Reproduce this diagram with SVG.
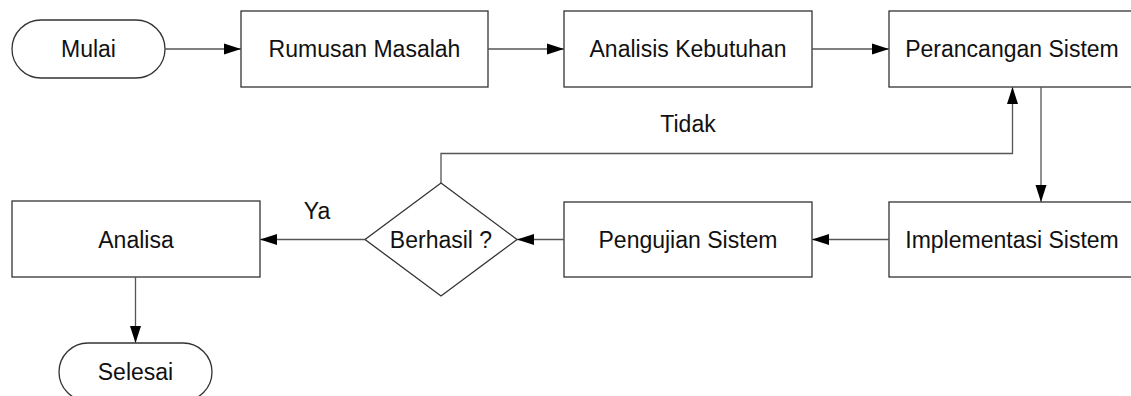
<svg xmlns="http://www.w3.org/2000/svg" width="1131" height="396" viewBox="0 0 1131 396">
<style>
.box{fill:#fff;stroke:#333;stroke-width:1.3}
.lbl{font-family:"Liberation Sans",Arial,sans-serif;font-size:23px;fill:#111;text-anchor:middle}
.con{fill:none;stroke:#555;stroke-width:1.3}
</style>
<defs>
<marker id="ah" markerUnits="userSpaceOnUse" markerWidth="18" markerHeight="12" refX="17" refY="6" orient="auto">
<path d="M0,0.5 L17,6 L0,11.5 Z" fill="#000"/>
</marker>
</defs>
<rect width="1131" height="396" fill="#fff"/>
<g id="mulai"><rect class="box" x="12" y="20" width="153" height="58" rx="29" ry="29"/><text class="lbl" x="88.5" y="57">Mulai</text></g>
<g id="rumusan"><rect class="box" x="241" y="11" width="247" height="76"/><text class="lbl" x="364.5" y="57">Rumusan Masalah</text></g>
<g id="analisis"><rect class="box" x="564" y="11" width="248" height="76"/><text class="lbl" x="688" y="57">Analisis Kebutuhan</text></g>
<g id="perancangan"><rect class="box" x="889" y="11" width="248" height="76"/><text class="lbl" x="1012" y="57">Perancangan Sistem</text></g>
<g id="implementasi"><rect class="box" x="889" y="202" width="248" height="75"/><text class="lbl" x="1012" y="247.5">Implementasi Sistem</text></g>
<g id="pengujian"><rect class="box" x="564" y="202" width="248" height="75"/><text class="lbl" x="688" y="247.5">Pengujian Sistem</text></g>
<g id="berhasil"><polygon class="box" points="441,183 517,239.5 441,296 365,239.5"/><text class="lbl" x="441" y="247.5">Berhasil ?</text></g>
<g id="analisa"><rect class="box" x="12" y="201" width="248" height="76"/><text class="lbl" x="136" y="247.5">Analisa</text></g>
<g id="selesai"><rect class="box" x="59" y="343" width="153" height="58" rx="29" ry="29"/><text class="lbl" x="135.5" y="380">Selesai</text></g>
<g id="connectors">
<path class="con" d="M165,49 H241" marker-end="url(#ah)"/>
<path class="con" d="M488,49 H564" marker-end="url(#ah)"/>
<path class="con" d="M812,49 H889" marker-end="url(#ah)"/>
<path class="con" d="M1041,87 V202" marker-end="url(#ah)"/>
<path class="con" d="M889,239.5 H812" marker-end="url(#ah)"/>
<path class="con" d="M564,239.5 H517" marker-end="url(#ah)"/>
<path class="con" d="M365,239.5 H260" marker-end="url(#ah)"/>
<path class="con" d="M441,183 V153.5 H1012.5 V87" marker-end="url(#ah)"/>
<path class="con" d="M135.5,277 V343" marker-end="url(#ah)"/>
<text class="lbl" x="688" y="132">Tidak</text>
<text class="lbl" x="317" y="218.5">Ya</text>
</g>
</svg>
